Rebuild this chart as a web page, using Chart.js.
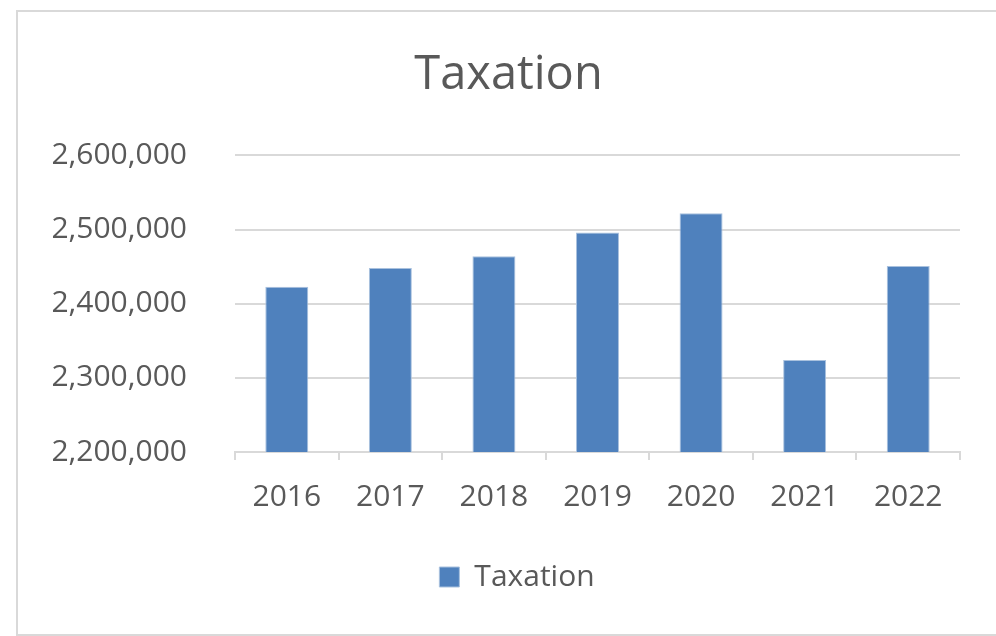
<!DOCTYPE html>
<html>
<head>
<meta charset="utf-8">
<script src="https://cdn.jsdelivr.net/npm/chart.js@4/dist/chart.umd.min.js"></script>
<style>
    html, body { margin: 0; padding: 0; background: #fff; }
    #frame {
        position: absolute; left: 16px; top: 10px;
        width: 1000px; height: 622px;
        border: 2px solid #d9d9d9;
    }
    #wrap { position: absolute; left: 0; top: 0; width: 996px; height: 636px; }
</style>
</head>
<body>
<div id="frame"></div>
<div id="wrap"><canvas id="chart"></canvas></div>
<script>
const years = ['2016', '2017', '2018', '2019', '2020', '2021', '2022']
const taxation = [2423000, 2448000, 2464000, 2496000, 2522000, 2324000, 2451000]
const yTicks = [2200000, 2300000, 2400000, 2500000, 2600000]

const grey = '#595959'
const lineGrey = '#d9d9d9'
const font = "'Open Sans', 'Noto Sans', sans-serif"

Chart.defaults.font.family = font
Chart.defaults.color = grey

// title and legend sit a little right of the canvas centre in the original
const nudge = {
    id: 'nudge',
    afterLayout(chart) {
        chart.titleBlock.left += 37
        chart.legend.left += 54
    }
}

new Chart(document.getElementById('chart'), {
    type: 'bar',
    data: {
        labels: years,
        datasets: [{
            label: 'Taxation',
            data: taxation,
            backgroundColor: '#4f81bd',
            borderColor: '#a9c1de',
            borderWidth: 1,
            barPercentage: 0.415,
            categoryPercentage: 1
        }]
    },
    options: {
        responsive: true,
        maintainAspectRatio: false,
        animation: false,
        layout: { padding: { left: 20, right: 36, top: 11, bottom: 34 } },
        plugins: {
            title: {
                display: true,
                text: 'Taxation',
                color: grey,
                font: { size: 47, weight: 'normal' },
                padding: { top: 36, bottom: 52 }
            },
            legend: {
                position: 'bottom',
                labels: {
                    color: grey,
                    font: { size: 30 },
                    boxWidth: 20,
                    boxHeight: 20,
                    padding: 10
                }
            },
            tooltip: { enabled: false }
        },
        scales: {
            x: {
                grid: {
                    offset: true,
                    drawOnChartArea: false,
                    tickLength: 8,
                    color: lineGrey,
                    lineWidth: 2
                },
                border: { color: lineGrey, width: 2 },
                ticks: { font: { size: 30 }, color: grey, padding: 19, maxRotation: 0 },
                afterFit: function (scale) { scale.height = 100 }
            },
            y: {
                min: yTicks[0],
                max: yTicks[yTicks.length - 1],
                afterBuildTicks: function (scale) {
                    scale.ticks = yTicks.map(v => ({ value: v }))
                },
                grid: { color: lineGrey, lineWidth: 2, drawTicks: false },
                border: { display: false },
                ticks: {
                    font: { size: 30 },
                    color: grey,
                    padding: 48,
                    callback: v => v.toLocaleString('en-US')
                },
                afterFit: function (scale) { scale.width = 215 }
            }
        }
    },
    plugins: [nudge]
})
</script>
</body>
</html>
